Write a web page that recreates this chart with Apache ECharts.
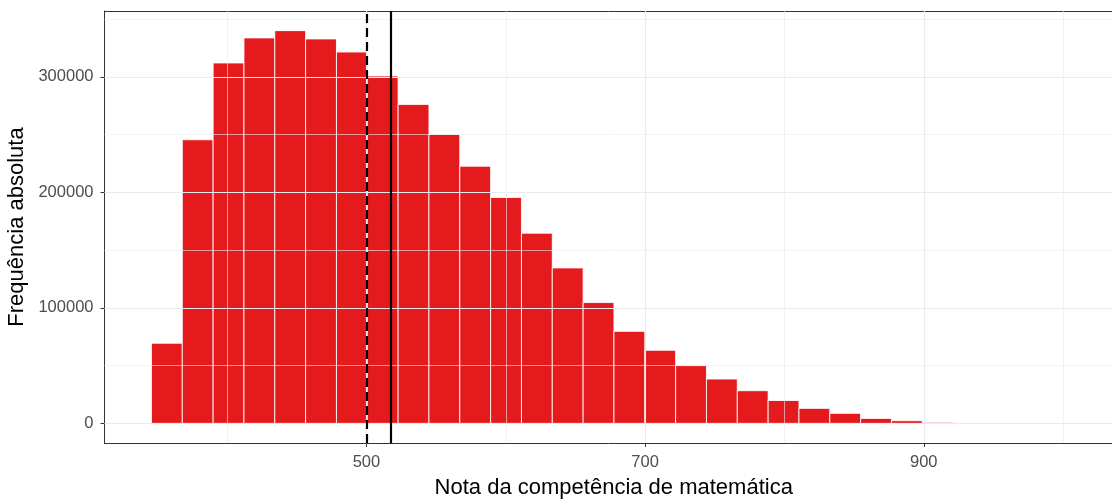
<!DOCTYPE html>
<html>
<head>
<meta charset="utf-8">
<title>Nota da competência de matemática</title>
<script src="https://cdn.jsdelivr.net/npm/echarts@6/dist/echarts.min.js"></script>
<style>
  html, body { margin: 0; padding: 0; background: #ffffff; }
  #chart { width: 1112px; height: 499px; }
</style>
</head>
<body>
<div id="chart"></div>
<script>
// Histogram of math scores: 30 equal-width bins
const binStart = 345.7;
const binWidth = 22.13;
const counts = [
  69400, 245600, 312100, 333800, 340100, 332900, 321600, 300800, 276200, 250200,
  222700, 195600, 164700, 134600, 104600, 79700, 63300, 50000, 38400, 28300,
  19800, 13000, 8700, 4300, 2300, 900, 300, 80, 20, 5
];

// Reference lines: median (dashed) and mean (solid)
const medianScore = 500.4;
const meanScore = 517.1;

// Axis breaks
const xMajor = [500, 700, 900];
const xMinor = [400, 600, 800, 1000];
const yMajor = [0, 100000, 200000, 300000];
const yMinor = [50000, 150000, 250000, 350000];

const bins = counts.map((c, i) => [binStart + i * binWidth, binStart + (i + 1) * binWidth, c]);

const gridColor = '#EBEBEB';
const borderColor = '#333333';
const tickFont = { color: '#4D4D4D', fontSize: 16.5, fontFamily: 'Liberation Sans, Arial, sans-serif' };
const titleFont = { color: '#000000', fontSize: 22, fontFamily: 'Liberation Sans, Arial, sans-serif' };

function gridLines(values, axisKey, width) {
  return values.map(v => ({
    [axisKey]: v,
    lineStyle: { color: gridColor, width: width, type: 'solid' }
  }));
}

const chart = echarts.init(document.getElementById('chart'), null, { renderer: 'canvas' });

chart.setOption({
  animation: false,
  backgroundColor: '#ffffff',
  grid: { left: 104.5, top: 11, right: -11, bottom: 56, containLabel: false, outerBoundsMode: 'none' },
  xAxis: [{
    type: 'value',
    min: 312,
    max: 1043,
    name: 'Nota da competência de matemática',
    nameLocation: 'middle',
    nameGap: 34,
    nameTextStyle: titleFont,
    axisLine: { show: true, onZero: false, lineStyle: { color: borderColor, width: 1 } },
    axisTick: { show: true, length: 4, customValues: xMajor, lineStyle: { color: borderColor, width: 1 } },
    axisLabel: Object.assign({ margin: 11, customValues: xMajor, formatter: v => String(v) }, tickFont),
    splitLine: { show: false },
    minorSplitLine: { show: false }
  }, {
    type: 'value',
    position: 'top',
    min: 312,
    max: 1043,
    axisLine: { show: true, onZero: false, lineStyle: { color: borderColor, width: 1 } },
    axisTick: { show: false },
    axisLabel: { show: false },
    splitLine: { show: false }
  }],
  yAxis: {
    type: 'value',
    min: -17000,
    max: 357100,
    name: 'Frequência absoluta',
    nameLocation: 'middle',
    nameGap: 72,
    nameTextStyle: titleFont,
    axisLine: { show: true, onZero: false, lineStyle: { color: borderColor, width: 1 } },
    axisTick: { show: true, length: 4, customValues: yMajor, lineStyle: { color: borderColor, width: 1 } },
    axisLabel: Object.assign({ margin: 11, customValues: yMajor, formatter: v => String(v) }, tickFont),
    splitLine: { show: false }
  },
  series: [
    {
      // panel grid lines
      type: 'line',
      data: [],
      z: 1,
      silent: true,
      markLine: {
        silent: true,
        symbol: ['none', 'none'],
        label: { show: false },
        animation: false,
        data: [].concat(
          gridLines(xMinor, 'xAxis', 0.6),
          gridLines(yMinor, 'yAxis', 0.6),
          gridLines(xMajor, 'xAxis', 1.1),
          gridLines(yMajor, 'yAxis', 1.1)
        )
      }
    },
    {
      type: 'custom',
      z: 2,
      data: bins,
      encode: { x: [0, 1], y: 2 },
      renderItem: function (params, api) {
        const p0 = api.coord([api.value(0), api.value(2)]);
        const p1 = api.coord([api.value(1), 0]);
        return {
          type: 'rect',
          shape: { x: p0[0], y: p0[1], width: p1[0] - p0[0], height: p1[1] - p0[1] },
          style: { fill: '#E41A1C', stroke: 'rgba(255,255,255,0.85)', lineWidth: 1 }
        };
      }
    },
    {
      // median and mean markers
      type: 'line',
      data: [],
      z: 3,
      silent: true,
      markLine: {
        silent: true,
        symbol: ['none', 'none'],
        label: { show: false },
        animation: false,
        data: [
          { xAxis: medianScore, lineStyle: { color: '#000000', width: 2.2, type: [9, 5] } },
          { xAxis: meanScore, lineStyle: { color: '#000000', width: 2.2, type: 'solid' } }
        ]
      }
    }
  ]
});
</script>
</body>
</html>
